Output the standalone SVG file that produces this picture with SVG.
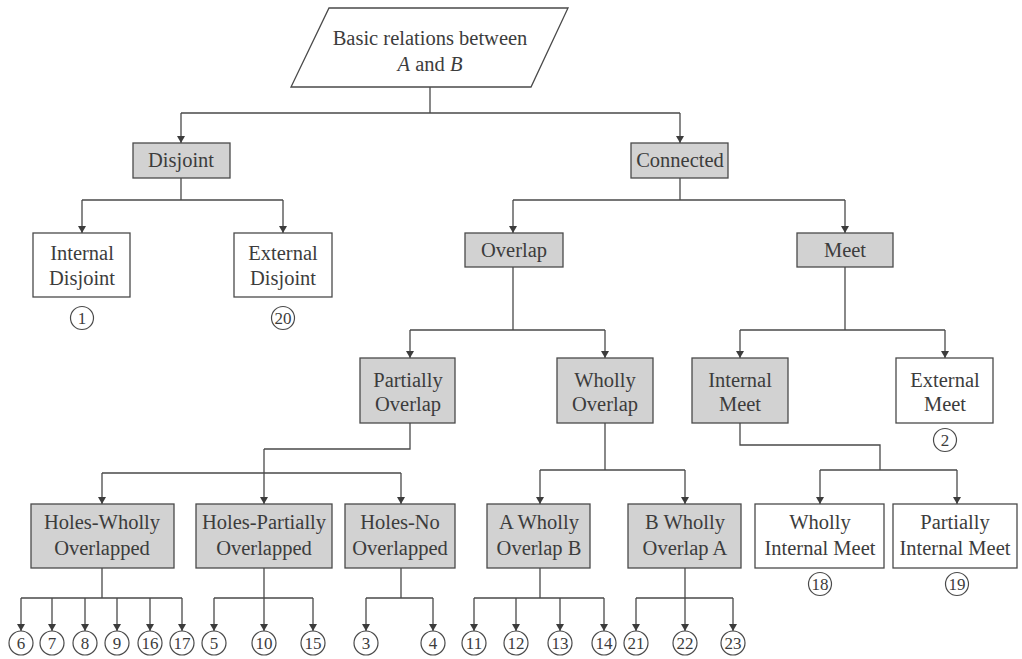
<svg xmlns="http://www.w3.org/2000/svg" width="1022" height="659" viewBox="0 0 1022 659">
<style>
.box{fill:#ffffff;stroke:#4a4a4a;stroke-width:1.3}
.g{fill:#d2d2d2}
.t{font-family:"Liberation Serif","Times New Roman",serif;font-size:20.5px;fill:#3c3c3c;text-anchor:middle}
.n{font-family:"Liberation Serif","Times New Roman",serif;font-size:17px;fill:#3c3c3c;text-anchor:middle}
.c{fill:#ffffff;stroke:#4a4a4a;stroke-width:1.2}
.l{fill:none;stroke:#4a4a4a;stroke-width:1.3}
.a{fill:none;stroke:#4a4a4a;stroke-width:1.3;marker-end:url(#ah)}
</style>
<defs>
<marker id="ah" markerUnits="userSpaceOnUse" markerWidth="8" markerHeight="9" refX="7" refY="4" orient="auto">
<path d="M0,0 L7,4 L0,8 z" fill="#3c3c3c"/>
</marker>
</defs>
<rect width="1022" height="659" fill="#ffffff"/>

<g id="connectors">
<path class="l" d="M430,87 V113 M181,113 H680 M181,178 V200 M82,200 H283 M680,178 V200 M513,200 H845 M513,267 V330 M410,330 H605 M845,267 V330 M740,330 H945 M410,423 V449 H264 M102,473 H401 M605,423 V470 M540,470 H685 M740,423 V445 H880 V470 M820,470 H957 M102,568 V598 M21,598 H182 M264,568 V598 M214,598 H313 M401,568 V598 M366,598 H433 M540,568 V598 M474,598 H604 M685,568 V598 M636,598 H733"/>
<path class="a" d="M181,113 V143"/>
<path class="a" d="M680,113 V143"/>
<path class="a" d="M82,200 V233"/>
<path class="a" d="M283,200 V233"/>
<path class="a" d="M513,200 V233"/>
<path class="a" d="M845,200 V233"/>
<path class="a" d="M410,330 V358"/>
<path class="a" d="M605,330 V358"/>
<path class="a" d="M740,330 V358"/>
<path class="a" d="M945,330 V358"/>
<path class="a" d="M102,473 V504"/>
<path class="a" d="M264,449 V504"/>
<path class="a" d="M401,473 V504"/>
<path class="a" d="M540,470 V504"/>
<path class="a" d="M685,470 V504"/>
<path class="a" d="M820,470 V504"/>
<path class="a" d="M957,470 V504"/>
<path class="a" d="M21,598 V631"/>
<path class="a" d="M52,598 V631"/>
<path class="a" d="M85,598 V631"/>
<path class="a" d="M117,598 V631"/>
<path class="a" d="M150,598 V631"/>
<path class="a" d="M182,598 V631"/>
<path class="a" d="M214,598 V631"/>
<path class="a" d="M264,598 V631"/>
<path class="a" d="M313,598 V631"/>
<path class="a" d="M366,598 V631"/>
<path class="a" d="M433,598 V631"/>
<path class="a" d="M474,598 V631"/>
<path class="a" d="M516,598 V631"/>
<path class="a" d="M560,598 V631"/>
<path class="a" d="M604,598 V631"/>
<path class="a" d="M636,598 V631"/>
<path class="a" d="M685,598 V631"/>
<path class="a" d="M733,598 V631"/>
</g>

<g id="root">
<polygon class="box" points="329,8 568,8 531,87 291,87"/>
<text class="t" x="430" y="45">Basic relations between</text>
<text class="t" x="430" y="71"><tspan font-style="italic">A</tspan> and <tspan font-style="italic">B</tspan></text>
</g>

<g id="disjoint"><rect class="box g" x="133" y="143" width="97" height="35"/><text class="t" x="181" y="167">Disjoint</text></g>
<g id="connected"><rect class="box g" x="631" y="143" width="97" height="35"/><text class="t" x="680" y="167">Connected</text></g>

<g id="internal-disjoint"><rect class="box" x="33" y="233" width="97" height="64"/><text class="t" x="82" y="260">Internal</text><text class="t" x="82" y="285">Disjoint</text></g>
<g id="external-disjoint"><rect class="box" x="234" y="233" width="98" height="64"/><text class="t" x="283" y="260">External</text><text class="t" x="283" y="285">Disjoint</text></g>
<g id="overlap"><rect class="box g" x="465" y="233" width="98" height="34"/><text class="t" x="514" y="257">Overlap</text></g>
<g id="meet"><rect class="box g" x="797" y="233" width="96" height="34"/><text class="t" x="845" y="257">Meet</text></g>

<g id="c1"><circle class="c" cx="82" cy="318" r="11.5"/><text class="n" x="82" y="324">1</text></g>
<g id="c20"><circle class="c" cx="283" cy="318" r="11.5"/><text class="n" x="283" y="324">20</text></g>

<g id="partially-overlap"><rect class="box g" x="360" y="358" width="95" height="65"/><text class="t" x="408" y="387">Partially</text><text class="t" x="408" y="411">Overlap</text></g>
<g id="wholly-overlap"><rect class="box g" x="557" y="358" width="96" height="65"/><text class="t" x="605" y="387">Wholly</text><text class="t" x="605" y="411">Overlap</text></g>
<g id="internal-meet"><rect class="box g" x="692" y="358" width="96" height="65"/><text class="t" x="740" y="387">Internal</text><text class="t" x="740" y="411">Meet</text></g>
<g id="external-meet"><rect class="box" x="896" y="358" width="97" height="65"/><text class="t" x="945" y="387">External</text><text class="t" x="945" y="411">Meet</text></g>
<g id="c2"><circle class="c" cx="945" cy="440" r="11.5"/><text class="n" x="945" y="446">2</text></g>

<g id="holes-wholly"><rect class="box g" x="31" y="504" width="143" height="64"/><text class="t" x="102" y="529">Holes-Wholly</text><text class="t" x="102" y="555">Overlapped</text></g>
<g id="holes-partially"><rect class="box g" x="196" y="504" width="136" height="64"/><text class="t" x="264" y="529">Holes-Partially</text><text class="t" x="264" y="555">Overlapped</text></g>
<g id="holes-no"><rect class="box g" x="345" y="504" width="110" height="64"/><text class="t" x="400" y="529">Holes-No</text><text class="t" x="400" y="555">Overlapped</text></g>
<g id="a-wholly-b"><rect class="box g" x="487" y="504" width="103" height="64"/><text class="t" x="539" y="529">A Wholly</text><text class="t" x="539" y="555">Overlap B</text></g>
<g id="b-wholly-a"><rect class="box g" x="628" y="504" width="113" height="64"/><text class="t" x="685" y="529">B Wholly</text><text class="t" x="685" y="555">Overlap A</text></g>
<g id="wholly-internal-meet"><rect class="box" x="755" y="504" width="129" height="64"/><text class="t" x="820" y="529">Wholly</text><text class="t" x="820" y="555">Internal Meet</text></g>
<g id="partially-internal-meet"><rect class="box" x="893" y="504" width="124" height="64"/><text class="t" x="955" y="529">Partially</text><text class="t" x="955" y="555">Internal Meet</text></g>
<g id="c18"><circle class="c" cx="820" cy="584" r="11.5"/><text class="n" x="820" y="590">18</text></g>
<g id="c19"><circle class="c" cx="957" cy="584" r="11.5"/><text class="n" x="957" y="590">19</text></g>

<g id="leaves">
<g id="c6"><circle class="c" cx="21" cy="643" r="12"/><text class="n" x="21" y="649">6</text></g>
<g id="c7"><circle class="c" cx="52" cy="643" r="12"/><text class="n" x="52" y="649">7</text></g>
<g id="c8"><circle class="c" cx="85" cy="643" r="12"/><text class="n" x="85" y="649">8</text></g>
<g id="c9"><circle class="c" cx="117" cy="643" r="12"/><text class="n" x="117" y="649">9</text></g>
<g id="c16"><circle class="c" cx="150" cy="643" r="12"/><text class="n" x="150" y="649">16</text></g>
<g id="c17"><circle class="c" cx="182" cy="643" r="12"/><text class="n" x="182" y="649">17</text></g>
<g id="c5"><circle class="c" cx="214" cy="643" r="12"/><text class="n" x="214" y="649">5</text></g>
<g id="c10"><circle class="c" cx="264" cy="643" r="12"/><text class="n" x="264" y="649">10</text></g>
<g id="c15"><circle class="c" cx="313" cy="643" r="12"/><text class="n" x="313" y="649">15</text></g>
<g id="c3"><circle class="c" cx="366" cy="643" r="12"/><text class="n" x="366" y="649">3</text></g>
<g id="c4"><circle class="c" cx="433" cy="643" r="12"/><text class="n" x="433" y="649">4</text></g>
<g id="c11"><circle class="c" cx="474" cy="643" r="12"/><text class="n" x="474" y="649">11</text></g>
<g id="c12"><circle class="c" cx="516" cy="643" r="12"/><text class="n" x="516" y="649">12</text></g>
<g id="c13"><circle class="c" cx="560" cy="643" r="12"/><text class="n" x="560" y="649">13</text></g>
<g id="c14"><circle class="c" cx="604" cy="643" r="12"/><text class="n" x="604" y="649">14</text></g>
<g id="c21"><circle class="c" cx="636" cy="643" r="12"/><text class="n" x="636" y="649">21</text></g>
<g id="c22"><circle class="c" cx="685" cy="643" r="12"/><text class="n" x="685" y="649">22</text></g>
<g id="c23"><circle class="c" cx="733" cy="643" r="12"/><text class="n" x="733" y="649">23</text></g>
</g>
</svg>
